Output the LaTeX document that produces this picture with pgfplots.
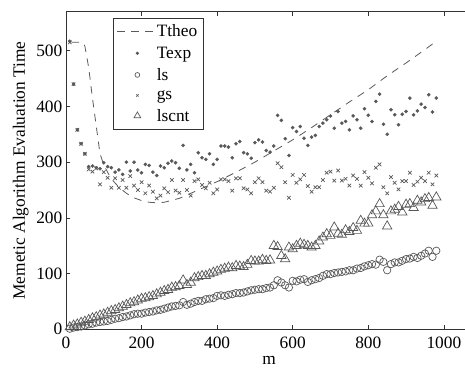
\documentclass[border=0pt]{standalone}
\usepackage{pgfplots}
\pgfplotsset{compat=1.18}
\usepackage{fontspec}
\setmainfont{Liberation Serif}
\definecolor{mk}{RGB}{88,88,88}
\definecolor{ln}{RGB}{90,90,90}
\definecolor{ax}{RGB}{50,50,50}
\newcommand{\fs}{\fontsize{17.4}{20}\selectfont}
\pgfplotsset{
  legline/.style={legend image code/.code={\draw[##1] (0bp,0bp) -- (37bp,0bp);}},
  legmark/.style={legend image code/.code={\draw[mark repeat=2,mark phase=2,##1,mark size=#1] plot coordinates {(0bp,0bp) (20bp,0bp) (40bp,0bp)};}},
}
\begin{document}
\begin{tikzpicture}
\begin{axis}[
  name=ax,
  width=399bp, height=317.6bp, scale only axis,
  xmin=0, xmax=1056, ymin=0, ymax=570,
  axis x line=box, axis y line=left,
  axis line style={-, ax, line width=0.6bp},
  xtick={0,200,400,600,800,1000},
  ytick={0,100,200,300,400,500},
  tick align=inside, major tick length=4bp,
  every tick/.style={ax, line width=0.6bp},
  /pgf/number format/assume math mode=true,
  /pgf/number format/1000 sep={},
  tick label style={font=\fs},
  xticklabel style={inner sep=0pt, anchor=north, yshift=-7bp},
  yticklabel style={inner sep=0pt, anchor=east, xshift=-3.5bp},
  xlabel={m}, ylabel={Memetic Algorithm Evaluation Time},
  label style={font=\fs},
  xlabel style={at={(axis description cs:0.509,-0.1124)}, anchor=base},
  ylabel style={at={(axis description cs:-0.103,0.5)}, anchor=base},
  clip=false,
  legend cell align=left,
  legend style={at={(0.117,0.98)}, anchor=north west, draw=ax, line width=0.6bp, fill=white,
    font=\fs, inner xsep=4bp, inner ysep=4.5bp, row sep=4.5bp,
    /tikz/every even column/.append style={column sep=4bp}},
]
\addplot[ln, line width=0.8bp, dash pattern=on 7.5bp off 6.5bp, legline]
  coordinates {(15,515) (45,515) (50,508) (60,470) (70,415) (80,365) (90,315) (100,295)
  (110,282) (120,270) (140,255) (160,244) (180,236) (200,231) (220,228) (240,227) (260,228)
  (300,235) (350,250) (400,265) (450,282) (500,300) (550,320) (600,340) (650,362) (700,385)
  (750,408) (800,430) (850,455) (900,478) (950,502) (970,512) (985,513)};
\addlegendentry{Ttheo}
\addplot[only marks, mark=*, mark size=1.6bp, mk, mark options={fill=mk, draw=mk}, legmark=1.3bp]
  table {
x y
10 517
20 440
30 358
40 333
50 315
60 292
70 293
80 290
90 288
100 299
110 292
120 290
130 282
140 286
150 278
160 300
170 284
180 300
190 286
200 281
210 296
220 294
230 282
240 276
250 293
260 290
270 298
280 302
290 299
300 289
310 330
320 286
330 296
340 281
350 317
360 308
370 305
380 315
390 296
400 305
410 329
420 329
430 327
440 308
450 333
460 337
470 317
480 315
490 307
500 335
510 340
520 336
530 321
540 318
550 329
560 384
570 375
580 342
590 312
600 362
610 355
620 364
630 343
640 330
650 345
660 348
670 364
680 370
690 376
700 383
710 361
720 391
730 370
740 373
750 358
760 383
770 376
780 361
790 396
800 384
810 373
820 409
830 422
840 368
850 350
860 394
870 385
880 367
890 386
900 391
910 415
920 385
930 392
940 404
950 398
960 421
970 390
980 415
};
\addlegendentry{Texp}
\addplot[only marks, mark=o, mark size=3.7bp, mk, mark options={line width=0.7bp}, legmark=2.4bp]
  table {
x y
10 1
20 3
30 4
40 5
50 7
60 9
70 10
80 12
90 13
100 14
110 15
120 17
130 19
140 20
150 22
160 23
170 25
180 27
190 28
200 28
210 30
220 31
230 32
240 34
250 35
260 37
270 39
280 41
290 42
300 43
310 49
320 44
330 46
340 49
350 51
360 51
370 54
380 55
390 56
400 60
410 61
420 60
430 62
440 63
450 65
460 65
470 66
480 68
490 70
500 71
510 72
520 72
530 74
540 75
550 79
560 88
570 84
580 79
590 75
600 87
610 86
620 89
630 90
640 85
650 88
660 90
670 92
680 96
690 99
700 99
710 101
720 102
730 103
740 104
750 106
760 106
770 109
780 110
790 113
800 115
810 117
820 116
830 125
840 121
850 106
860 117
870 120
880 120
890 123
900 126
910 127
920 130
930 128
940 132
950 136
960 141
970 130
980 141
};
\addlegendentry{ls}
\addplot[only marks, mark=x, mark size=2.5bp, mk, mark options={line width=0.7bp}, legmark=1.6bp]
  table {
x y
10 515
20 440
30 358
40 333
50 315
60 287
70 283
80 289
90 260
100 282
110 272
120 254
130 271
140 254
150 268
160 254
170 275
180 258
190 250
200 264
210 244
220 258
230 247
240 235
250 240
260 253
270 246
280 268
290 249
300 245
310 268
320 250
330 240
340 266
350 269
360 259
370 253
380 263
390 244
400 251
410 269
420 269
430 266
440 249
450 271
460 271
470 253
480 251
490 244
500 264
510 271
520 264
530 249
540 247
550 254
560 298
570 291
580 264
590 236
600 277
610 263
620 269
630 277
640 257
650 247
660 255
670 255
680 268
690 281
700 283
710 267
720 285
730 267
740 270
750 258
760 276
770 270
780 258
790 282
800 272
810 262
820 290
830 296
840 255
850 244
860 273
870 263
880 251
890 266
900 266
910 281
920 259
930 265
940 272
950 266
960 281
970 260
980 276
};
\addlegendentry{gs}
\addplot[only marks, mark=triangle, mark size=5.4bp, mk, mark options={line width=0.7bp}, legmark=3.9bp]
  table {
x y
10 4
20 7
30 9
40 12
50 14
60 17
70 20
80 22
90 25
100 27
110 30
120 33
130 35
140 38
150 41
160 44
170 47
180 49
190 52
200 55
210 56
220 58
230 60
240 63
250 66
260 69
270 71
280 75
290 76
300 78
310 88
320 80
330 84
340 92
350 94
360 96
370 96
380 99
390 102
400 104
410 107
420 109
430 111
440 110
450 114
460 113
470 112
480 116
490 123
500 122
510 122
520 125
530 123
540 124
550 150
560 148
570 132
580 126
590 147
600 144
610 150
620 154
630 152
640 150
650 147
660 150
670 158
680 165
690 171
700 168
710 183
720 172
730 170
740 178
750 175
760 182
770 177
780 195
790 190
800 190
810 205
820 212
830 225
840 205
850 185
860 212
870 215
880 220
890 210
900 224
910 225
920 218
930 231
940 228
950 234
960 236
970 222
980 237
};
\addlegendentry{lscnt}
\end{axis}
\pgfresetboundingbox
\path[use as bounding box] ([shift={(-66bp,-38.7bp)}]ax.south west) rectangle ([shift={(0bp,11.7bp)}]ax.north east);
\end{tikzpicture}
\end{document}
